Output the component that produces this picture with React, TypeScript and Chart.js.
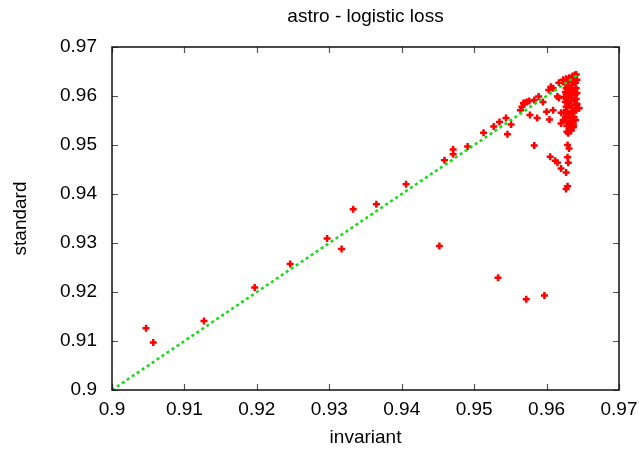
import React, { useEffect, useRef } from "react";
import { Chart, registerables } from "chart.js";

Chart.register(...registerables);

const TITLE = "astro - logistic loss";
const X_LABEL = "invariant";
const Y_LABEL = "standard";
const AXIS_MIN = 0.9;
const AXIS_MAX = 0.97;
const AXIS_STEP = 0.01;
const TICK_VALUES = [0.9, 0.91, 0.92, 0.93, 0.94, 0.95, 0.96, 0.97];
const DIAGONAL = [0.9, 0.9644];

const invariant = [
  0.9047, 0.9057, 0.9127, 0.9197, 0.9246, 0.9297, 0.9317, 0.9333, 0.9365, 0.9406,
  0.9452, 0.9533, 0.9572, 0.9597, 0.9627, 0.9629, 0.9459, 0.9471, 0.9471, 0.9491,
  0.9513, 0.9527, 0.9535, 0.9544, 0.9551, 0.9546, 0.9577, 0.9587, 0.9583, 0.9564,
  0.9566, 0.9568, 0.957, 0.9573, 0.9576, 0.9583, 0.9589, 0.9595, 0.96, 0.9604,
  0.9603, 0.9606, 0.9609, 0.9609, 0.9615, 0.9617, 0.9617, 0.962, 0.962, 0.9623,
  0.9605, 0.9612, 0.9615, 0.962, 0.9629, 0.963, 0.9627, 0.9629, 0.9631, 0.9628,
  0.9633, 0.9633, 0.9637, 0.9645, 0.9623, 0.9627, 0.9631, 0.9636, 0.9639, 0.9641,
  0.9626, 0.963, 0.9634, 0.9638, 0.9627, 0.9631, 0.9635, 0.964, 0.9642, 0.9626,
  0.9628, 0.9633, 0.9637, 0.9641, 0.9624, 0.9628, 0.9631, 0.9635, 0.964, 0.9642,
  0.9626, 0.963, 0.9634, 0.9638, 0.9641, 0.9627, 0.9631, 0.9635, 0.964, 0.9642,
  0.9624, 0.9628, 0.9633, 0.9637, 0.9641, 0.9626, 0.963, 0.9634, 0.9638, 0.9627,
  0.9631, 0.9635, 0.964, 0.9628, 0.9633, 0.9637, 0.963, 0.9634,
];

const standard = [
  0.9126, 0.9097, 0.9141, 0.9209, 0.9257, 0.9309, 0.9288, 0.9369, 0.9379, 0.942,
  0.9294, 0.9229, 0.9185, 0.9193, 0.941, 0.9416, 0.9469, 0.9491, 0.9481, 0.9497,
  0.9525, 0.9538, 0.9547, 0.9555, 0.9542, 0.9522, 0.9561, 0.9555, 0.9499, 0.9571,
  0.9578, 0.9585, 0.9586, 0.9588, 0.959, 0.9592, 0.9599, 0.9588, 0.9568, 0.9552,
  0.9612, 0.9619, 0.9616, 0.9571, 0.9599, 0.9596, 0.9627, 0.9566, 0.9544, 0.9551,
  0.9476, 0.9468, 0.9464, 0.9452, 0.9475, 0.9464, 0.9444, 0.95, 0.9493, 0.9527,
  0.9529, 0.9548, 0.9536, 0.9575, 0.9633, 0.9635, 0.9637, 0.9641, 0.9643, 0.9644,
  0.9624, 0.9629, 0.9633, 0.9635, 0.9616, 0.9618, 0.9622, 0.9627, 0.9633, 0.9608,
  0.9606, 0.961, 0.9612, 0.9616, 0.9598, 0.9596, 0.96, 0.9602, 0.9604, 0.9606,
  0.9588, 0.9586, 0.959, 0.9592, 0.9594, 0.9578, 0.958, 0.9576, 0.9582, 0.9584,
  0.9567, 0.9569, 0.9565, 0.9567, 0.9571, 0.9557, 0.9559, 0.9555, 0.9557, 0.9549,
  0.9545, 0.9547, 0.9551, 0.9539, 0.9535, 0.9541, 0.9524, 0.9529,
];

const FONT = "'Liberation Sans', Arial, sans-serif";

const framePlugin = {
  id: "frameTicks",
  afterDatasetsDraw(chart: any) {
    const { ctx, chartArea, scales } = chart;
    const { left, right, top, bottom } = chartArea;
    const xs = scales.x;
    const ys = scales.y;
    ctx.save();
    ctx.strokeStyle = "#555555";
    ctx.lineWidth = 1.2;
    const len = 6;
    ctx.beginPath();
    TICK_VALUES.forEach((v) => {
      const px = Math.round(xs.getPixelForValue(v)) + 0.5;
      ctx.moveTo(px, bottom);
      ctx.lineTo(px, bottom - len);
      ctx.moveTo(px, top);
      ctx.lineTo(px, top + len);
      const py = Math.round(ys.getPixelForValue(v)) + 0.5;
      ctx.moveTo(left, py);
      ctx.lineTo(left + len, py);
      ctx.moveTo(right, py);
      ctx.lineTo(right - len, py);
    });
    ctx.stroke();
    ctx.strokeStyle = "#111111";
    ctx.lineWidth = 1.5;
    ctx.strokeRect(left, top, right - left, bottom - top);
    ctx.restore();
  },
};

export default function App() {
  const ref = useRef<HTMLCanvasElement | null>(null);

  useEffect(() => {
    if (!ref.current) return;
    const points = invariant.map((x, i) => ({ x, y: standard[i] }));
    const diag = DIAGONAL.map((v) => ({ x: v, y: v }));
    const fmt = (v: any) => Number(v).toFixed(2).replace(/0$/, "");
    const chart = new Chart(ref.current, {
      type: "scatter",
      data: {
        datasets: [
          {
            type: "line",
            label: "x",
            data: diag,
            borderColor: "#11dd11",
            borderWidth: 2.5,
            borderDash: [3, 3],
            pointRadius: 0,
            fill: false,
            tension: 0,
          } as any,
          {
            label: "points",
            data: points,
            pointStyle: "cross",
            pointRadius: 3.5,
            pointBorderWidth: 2.5,
            borderColor: "#ff0000",
            backgroundColor: "#ff0000",
            pointHoverRadius: 3.5,
          } as any,
        ],
      },
      options: {
        animation: false,
        responsive: false,
        events: [],
        layout: { padding: { left: 0, right: 20, top: 0, bottom: 0 } },
        plugins: {
          legend: { display: false },
          tooltip: { enabled: false },
          title: {
            display: true,
            text: TITLE,
            fullSize: false,
            color: "#000",
            font: { family: FONT, size: 19, weight: "normal" },
            padding: { top: 5, bottom: 19.2 },
          },
        },
        scales: {
          x: {
            type: "linear",
            min: AXIS_MIN,
            max: AXIS_MAX,
            grid: { display: false, drawTicks: false, tickLength: 0 },
            border: { display: false },
            ticks: {
              stepSize: AXIS_STEP,
              padding: 8,
              color: "#000",
              font: { family: FONT, size: 19 },
              callback: fmt,
              maxRotation: 0,
            },
            title: {
              display: true,
              text: X_LABEL,
              color: "#000",
              font: { family: FONT, size: 19 },
              padding: { top: 0, bottom: 1 },
            },
            afterFit: (s: any) => {
              s.height = 60;
              s.paddingLeft = 0;
              s.paddingRight = 0;
            },
          },
          y: {
            type: "linear",
            min: AXIS_MIN,
            max: AXIS_MAX,
            grid: { display: false, drawTicks: false, tickLength: 0 },
            border: { display: false },
            ticks: {
              stepSize: AXIS_STEP,
              padding: 15,
              color: "#000",
              font: { family: FONT, size: 19 },
              callback: fmt,
            },
            title: {
              display: true,
              text: Y_LABEL,
              color: "#000",
              font: { family: FONT, size: 19 },
              padding: { top: 9, bottom: 0 },
            },
            afterFit: (s: any) => {
              s.width = 112;
              s.paddingTop = 0;
              s.paddingBottom = 0;
            },
          },
        },
      },
      plugins: [framePlugin],
    });
    return () => chart.destroy();
  }, []);

  return (
    <div style={{ position: "fixed", left: 0, top: 0, width: 639, height: 450, background: "#fff" }}>
      <canvas ref={ref} width={639} height={450} />
    </div>
  );
}
